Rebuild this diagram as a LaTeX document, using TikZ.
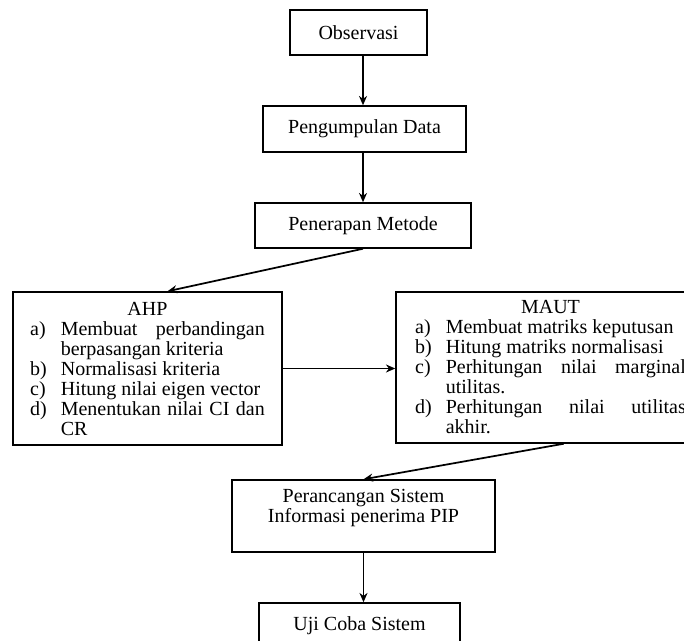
\documentclass[tikz,border=0pt]{standalone}
\usepackage{fontspec}
\setmainfont{Liberation Serif}
\usetikzlibrary{arrows.meta}
\newcommand\itm[2]{\par\hangindent=23pt\hangafter=1\noindent\makebox[23pt][l]{#1}#2\par}
\begin{document}
\begin{tikzpicture}[x=0.75pt,y=-0.75pt,
    box/.style={draw,line width=1.1pt,font=\fontsize{15}{15}\selectfont,align=center},
    listbox/.style={box,align=justify},
    arr/.style={line width=1.3pt,-{Stealth[length=7pt,width=6pt]}}]
        \useasboundingbox (0,0) rectangle (684,641);
        \clip (0,0) rectangle (684,641);
        \node[box,minimum width=102.75pt,minimum height=33.75pt] (obs) at (358.5,32.5) {Observasi};
        \node[box,minimum width=152.25pt,minimum height=34.5pt] (data) at (364.5,129) {Pengumpulan Data};
        \node[box,minimum width=162pt,minimum height=33.75pt] (metode) at (363,225.5) {Penerapan Metode};
        \node[listbox,minimum width=201.75pt,minimum height=114.75pt,text width=176pt] (ahp) at (147.5,368.5)
            {\makebox[\linewidth]{AHP}\par
             \itm{a)}{Membuat perbandingan berpasangan kriteria}
             \itm{b)}{Normalisasi kriteria}
             \itm{c)}{Hitung nilai eigen vector}
             \itm{d)}{Menentukan nilai CI dan CR}};
        \node[listbox,minimum width=231.75pt,minimum height=113.25pt,text width=203pt] (maut) at (550.5,367.5)
            {\makebox[\linewidth]{MAUT}\par
             \itm{a)}{Membuat matriks keputusan}
             \itm{b)}{Hitung matriks normalisasi}
             \itm{c)}{Perhitungan nilai marginal utilitas.}
             \itm{d)}{Perhitungan nilai utilitas akhir.}};
        \node[box,minimum width=197.25pt,minimum height=54pt] (sistem) at (363.5,516)
            {Perancangan Sistem\\Informasi penerima PIP\\ };
        \node[box,minimum width=150.75pt,minimum height=33.75pt] (uji) at (359.5,625.5) {Uji Coba Sistem};
        \draw[arr] (obs.south -| metode.north) -- (data.north -| metode.north);
        \draw[arr] (data.south -| metode.north) -- (metode.north);
        \draw[arr] (metode.south) -- ([xshift=15pt]ahp.north);
        \draw[arr] (ahp.east) -- (ahp.east -| maut.west);
        \draw[arr] ([xshift=10pt]maut.south) -- (sistem.north);
        \draw[arr] (sistem.south) -- (sistem.south |- uji.north);
    \end{tikzpicture}
\end{document}
